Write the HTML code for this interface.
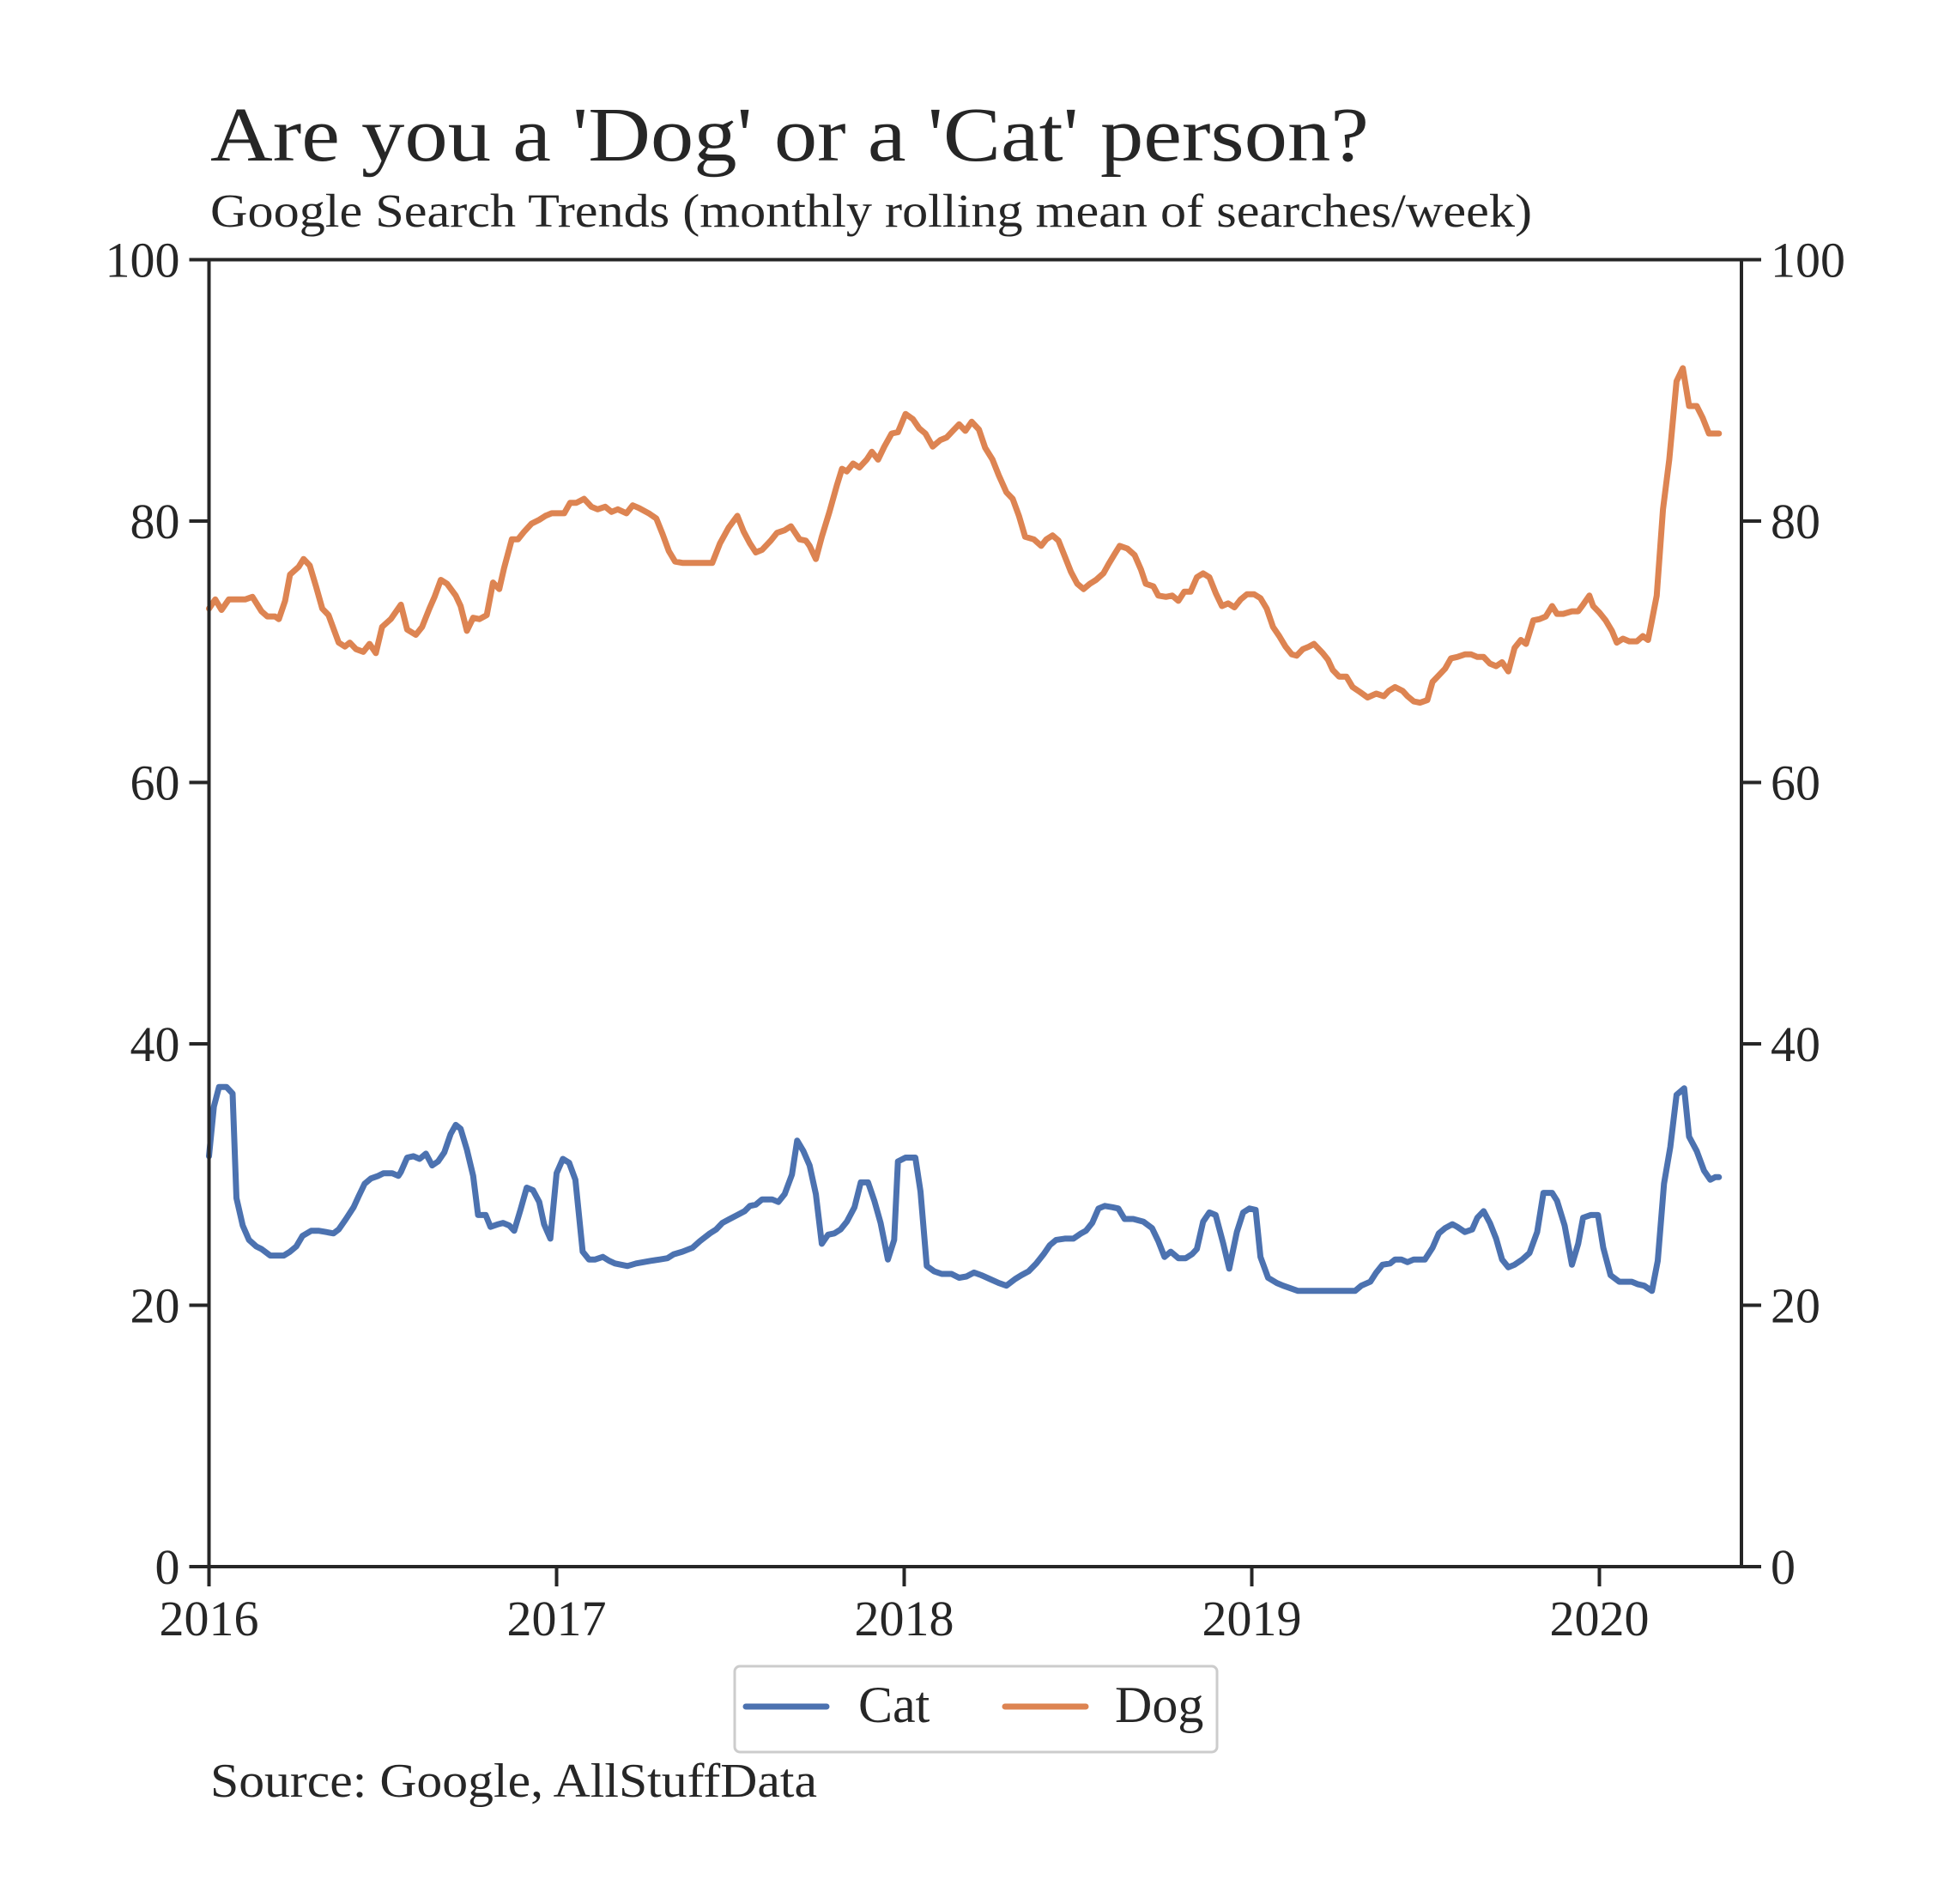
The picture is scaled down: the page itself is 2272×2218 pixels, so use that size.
<!DOCTYPE html>
<html><head><meta charset="utf-8"><style>
html,body{margin:0;padding:0;background:#fff;}
svg text{font-family:"Liberation Serif",serif;fill:#262626;}
</style></head><body>
<svg id="chart" width="2272" height="2213" xmlns="http://www.w3.org/2000/svg">
<rect width="2272" height="2213" fill="#fff"/>
<text x="245" y="187" font-size="90" textLength="1350" lengthAdjust="spacingAndGlyphs">Are you a 'Dog' or a 'Cat' person?</text>
<text x="245" y="264" font-size="55" textLength="1540" lengthAdjust="spacingAndGlyphs">Google Search Trends (monthly rolling mean of searches/week)</text>
<g id="yticks"></g>
<g id="xticks"></g>
<g id="lines"></g>
<rect x="243.5" y="302.5" width="1785.5" height="1522.5" fill="none" stroke="#262626" stroke-width="4"/>
<g>
<rect x="856" y="1941" width="562" height="100" rx="6" fill="#fff" stroke="#cccccc" stroke-width="3"/>
<line x1="869" y1="1988" x2="963" y2="1988" stroke="#4c72b0" stroke-width="7" stroke-linecap="round"/>
<text x="1000" y="2006" font-size="60">Cat</text>
<line x1="1171" y1="1988" x2="1265" y2="1988" stroke="#dd8452" stroke-width="7" stroke-linecap="round"/>
<text x="1299" y="2006" font-size="60">Dog</text>
</g>
<text x="245" y="2093" font-size="56" textLength="707" lengthAdjust="spacingAndGlyphs">Source: Google, AllStuffData</text>
</svg>
<script>
const yTicks=[0,20,40,60,80,100];
const xTickYears=[2016,2017,2018,2019,2020];
const dogT=[0,.018,.036,.057,.104,.125,.151,.168,.190,.201,.219,.233,.258,.272,.290,.308,.326,.344,.373,.391,.405,.423,.444,.462,.480,.498,.523,.552,.570,.595,.613,.634,.649,.667,.685,.710,.724,.742,.760,.778,.799,.817,.835,.849,.871,.889,.907,.928,.950,.968,.986,1.004,1.022,1.039,1.057,1.079,1.100,1.118,1.140,1.158,1.176,1.201,1.219,1.237,1.265,1.287,1.305,1.323,1.341,1.362,1.448,1.470,1.495,1.520,1.538,1.556,1.573,1.591,1.616,1.634,1.656,1.674,1.699,1.717,1.728,1.746,1.763,1.785,1.806,1.821,1.835,1.853,1.871,1.892,1.907,1.925,1.943,1.964,1.982,2.004,2.025,2.043,2.061,2.082,2.104,2.122,2.140,2.158,2.176,2.194,2.215,2.233,2.254,2.272,2.294,2.312,2.330,2.348,2.373,2.394,2.409,2.427,2.444,2.462,2.480,2.498,2.516,2.534,2.552,2.573,2.588,2.606,2.620,2.642,2.663,2.681,2.695,2.717,2.731,2.753,2.771,2.789,2.806,2.824,2.842,2.860,2.878,2.896,2.914,2.932,2.950,2.968,2.986,3.007,3.025,3.043,3.061,3.079,3.097,3.115,3.129,3.147,3.165,3.179,3.204,3.219,3.233,3.251,3.272,3.290,3.312,3.333,3.358,3.380,3.394,3.412,3.434,3.448,3.466,3.484,3.505,3.520,3.538,3.556,3.573,3.591,3.613,3.631,3.649,3.667,3.685,3.703,3.720,3.738,3.756,3.774,3.789,3.810,3.828,3.846,3.864,3.878,3.896,3.921,3.939,3.953,3.971,3.982,4.000,4.018,4.036,4.050,4.068,4.086,4.108,4.125,4.140,4.151,4.165,4.183,4.201,4.222,4.240,4.258,4.280,4.297,4.315,4.333,4.344];
const dogV=[73.3,74.0,73.2,74.0,74.0,74.2,73.1,72.7,72.7,72.5,73.9,75.9,76.5,77.1,76.6,75.0,73.3,72.8,70.7,70.4,70.7,70.2,70.0,70.6,69.9,71.9,72.5,73.6,71.7,71.3,71.9,73.3,74.2,75.5,75.2,74.3,73.5,71.6,72.6,72.5,72.8,75.3,74.8,76.4,78.6,78.6,79.2,79.8,80.1,80.4,80.6,80.6,80.6,81.4,81.4,81.7,81.1,80.9,81.1,80.7,80.9,80.6,81.2,81.0,80.6,80.2,79.0,77.7,76.9,76.8,76.8,78.3,79.5,80.4,79.2,78.3,77.6,77.8,78.5,79.1,79.3,79.6,78.6,78.5,78.1,77.1,78.8,80.7,82.7,84.0,83.8,84.4,84.1,84.7,85.3,84.7,85.7,86.7,86.8,88.2,87.8,87.1,86.7,85.7,86.2,86.4,86.9,87.4,86.9,87.6,87.0,85.6,84.7,83.5,82.2,81.7,80.4,78.8,78.6,78.1,78.6,78.9,78.5,77.3,76.1,75.2,74.8,75.2,75.5,76.0,76.7,77.5,78.1,77.9,77.4,76.3,75.2,75.0,74.3,74.2,74.3,73.9,74.6,74.6,75.7,76.0,75.7,74.5,73.5,73.7,73.4,74.0,74.4,74.4,74.1,73.3,71.9,71.2,70.4,69.8,69.7,70.2,70.4,70.6,69.9,69.4,68.6,68.1,68.1,67.3,66.9,66.5,66.8,66.6,67.0,67.3,67.0,66.6,66.2,66.1,66.3,67.7,68.2,68.7,69.5,69.6,69.8,69.8,69.6,69.6,69.1,68.9,69.2,68.5,70.3,70.9,70.6,72.4,72.5,72.7,73.5,72.9,72.9,73.1,73.1,73.6,74.3,73.5,73.0,72.4,71.6,70.7,71.0,70.8,70.8,71.2,70.9,72.4,74.3,80.9,84.7,90.7,91.7,88.8,88.8,87.9,86.7,86.7,86.7];
const catT=[0,.014,.029,.050,.068,.079,.097,.115,.136,.151,.176,.215,.233,.251,.269,.294,.315,.337,.358,.373,.394,.416,.430,.448,.466,.487,.502,.527,.545,.552,.570,.588,.606,.624,.642,.659,.677,.695,.710,.724,.742,.760,.774,.796,.810,.832,.846,.864,.878,.896,.914,.932,.950,.964,.982,1.000,1.018,1.036,1.054,1.075,1.093,1.111,1.133,1.151,1.168,1.204,1.229,1.272,1.297,1.319,1.337,1.362,1.391,1.412,1.441,1.459,1.477,1.498,1.520,1.541,1.556,1.573,1.591,1.620,1.638,1.656,1.677,1.692,1.710,1.728,1.746,1.763,1.781,1.799,1.817,1.835,1.857,1.875,1.896,1.914,1.932,1.953,1.971,1.982,2.004,2.032,2.047,2.065,2.086,2.108,2.136,2.158,2.179,2.201,2.222,2.247,2.272,2.294,2.319,2.337,2.358,2.380,2.401,2.419,2.437,2.462,2.487,2.509,2.523,2.541,2.559,2.577,2.599,2.616,2.634,2.659,2.688,2.713,2.731,2.749,2.767,2.789,2.810,2.828,2.842,2.860,2.878,2.896,2.918,2.935,2.957,2.975,2.993,3.011,3.025,3.047,3.072,3.090,3.111,3.133,3.297,3.315,3.341,3.358,3.376,3.398,3.412,3.430,3.448,3.466,3.498,3.520,3.538,3.556,3.577,3.591,3.613,3.634,3.649,3.667,3.685,3.703,3.720,3.738,3.756,3.778,3.799,3.821,3.839,3.864,3.878,3.900,3.921,3.939,3.953,3.975,3.996,4.011,4.032,4.057,4.093,4.111,4.129,4.151,4.168,4.186,4.204,4.222,4.244,4.258,4.280,4.301,4.319,4.333,4.344];
const catV=[31.4,35.2,36.7,36.7,36.2,28.2,26.1,25.0,24.5,24.3,23.8,23.8,24.1,24.5,25.3,25.7,25.7,25.6,25.5,25.8,26.6,27.5,28.3,29.3,29.7,29.9,30.1,30.1,29.9,30.2,31.3,31.4,31.2,31.6,30.7,31.0,31.7,33.1,33.8,33.5,31.9,29.9,26.9,26.9,26.0,26.2,26.3,26.1,25.7,27.3,29.0,28.8,27.9,26.2,25.1,30.1,31.2,30.9,29.6,24.1,23.5,23.5,23.7,23.4,23.2,23.0,23.2,23.4,23.5,23.6,23.9,24.1,24.4,24.9,25.5,25.8,26.3,26.6,26.9,27.2,27.6,27.7,28.1,28.1,27.9,28.5,30.0,32.6,31.8,30.7,28.5,24.7,25.4,25.5,25.8,26.4,27.5,29.4,29.4,28.0,26.3,23.5,25.0,31.0,31.3,31.3,28.7,23.0,22.6,22.4,22.4,22.1,22.2,22.5,22.3,22.0,21.7,21.5,22.0,22.3,22.6,23.2,23.9,24.6,25.0,25.1,25.1,25.5,25.7,26.3,27.4,27.6,27.5,27.4,26.6,26.6,26.4,25.9,24.9,23.7,24.1,23.6,23.6,23.9,24.3,26.4,27.1,26.9,24.7,22.8,25.6,27.1,27.4,27.3,23.7,22.1,21.7,21.5,21.3,21.1,21.1,21.5,21.8,22.5,23.1,23.2,23.5,23.5,23.3,23.5,23.5,24.4,25.5,25.9,26.2,26.0,25.6,25.8,26.7,27.2,26.3,25.1,23.5,22.9,23.1,23.5,24.0,25.6,28.6,28.6,28.0,26.1,23.1,24.7,26.7,26.9,26.9,24.4,22.3,21.8,21.8,21.6,21.5,21.1,23.4,29.3,32.1,36.1,36.6,32.9,31.8,30.3,29.6,29.8,29.8];

const X0=243.5,PXYR=405.0,Y0=1825,YTOP=302.5,XR=2029;
const xs=t=>X0+t*PXYR;
const ys=v=>Y0-(Y0-YTOP)*v/100;
const NS='http://www.w3.org/2000/svg';
function mk(tag,attrs){const e=document.createElementNS(NS,tag);for(const k in attrs)e.setAttribute(k,attrs[k]);return e;}
const yg=document.getElementById('yticks'),xg=document.getElementById('xticks'),lg=document.getElementById('lines');
yTicks.forEach(v=>{
  const y=ys(v);
  const t1=mk('line',{x1:X0-23,x2:X0,y1:y,y2:y,stroke:'#262626','stroke-width':4});
  
  
  yg.appendChild(t1);
  const t2=mk('line',{x1:XR,x2:XR+23,y1:y,y2:y,stroke:'#262626','stroke-width':4});
  
  
  yg.appendChild(t2);
  const l1=mk('text',{x:X0-34,y:y+20,'font-size':58,'text-anchor':'end'});
  l1.textContent=v;
  
  
  yg.appendChild(l1);
  const l2=mk('text',{x:XR+34,y:y+20,'font-size':58});
  l2.textContent=v;
  
  
  yg.appendChild(l2);
});
xTickYears.forEach(yr=>{
  const x=xs(yr-2016);
  const t=mk('line',{x1:x,x2:x,y1:Y0,y2:Y0+23,stroke:'#262626','stroke-width':4});
  
  
  xg.appendChild(t);
  const l=mk('text',{x:x,y:Y0+80,'font-size':58,'text-anchor':'middle'});
  l.textContent=yr;
  
  
  xg.appendChild(l);
});
function path(T,V){return T.map((t,i)=>(i?'L':'M')+xs(t).toFixed(1)+','+ys(V[i]).toFixed(1)).join('');}
const pd=mk('path',{d:path(dogT,dogV),fill:'none',stroke:'#dd8452','stroke-width':7,'stroke-linejoin':'round','stroke-linecap':'round'});


lg.appendChild(pd);
const pc=mk('path',{d:path(catT,catV),fill:'none',stroke:'#4c72b0','stroke-width':7,'stroke-linejoin':'round','stroke-linecap':'round'});


lg.appendChild(pc);
</script>
</body></html>
